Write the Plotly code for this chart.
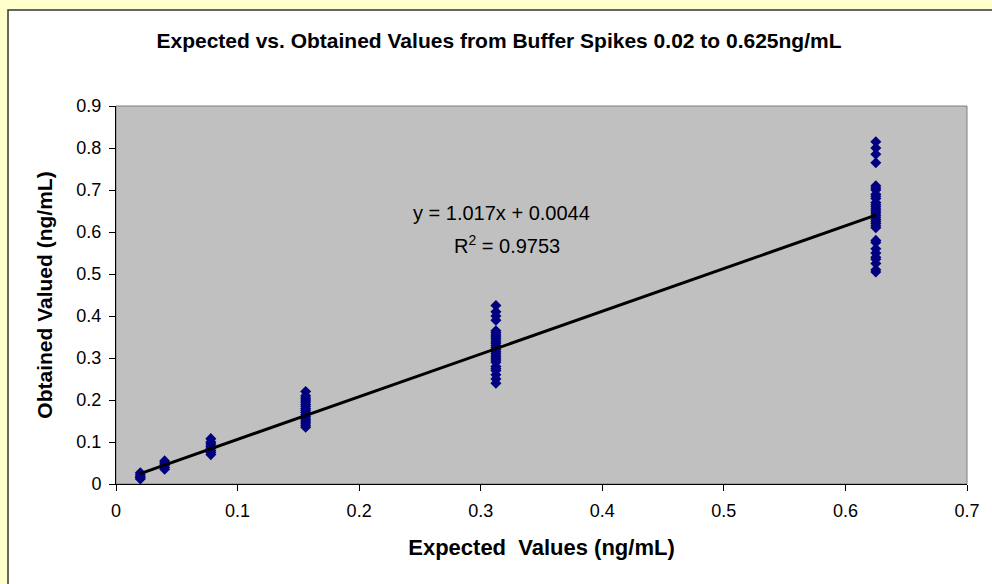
import plotly.graph_objects as go

# ---- data ----
expected_levels = [0.02, 0.04, 0.078, 0.156, 0.3125, 0.625]
obtained_002 = [0.027, 0.022, 0.018, 0.015, 0.012]
obtained_004 = [0.055, 0.05, 0.045, 0.04, 0.035]
obtained_0078 = [0.108, 0.10, 0.095, 0.09, 0.085, 0.08, 0.075, 0.07]
obtained_0156 = [0.22, 0.21, 0.205, 0.20, 0.195, 0.19, 0.185, 0.18, 0.175, 0.17,
                 0.165, 0.16, 0.155, 0.15, 0.145, 0.14, 0.135]
obtained_03125 = [0.425, 0.41, 0.40, 0.39, 0.365, 0.36, 0.355, 0.35, 0.345, 0.34,
                  0.335, 0.33, 0.325, 0.32, 0.315, 0.31, 0.305, 0.30, 0.295, 0.29,
                  0.28, 0.275, 0.27, 0.26, 0.25, 0.24]
obtained_0625 = [0.815, 0.80, 0.785, 0.765, 0.71, 0.705, 0.70, 0.69, 0.685, 0.68,
                 0.67, 0.665, 0.66, 0.655, 0.65, 0.645, 0.64, 0.635, 0.63, 0.625,
                 0.62, 0.615, 0.61, 0.58, 0.575, 0.56, 0.55, 0.54, 0.535, 0.525,
                 0.51, 0.505]
obtained_groups = [obtained_002, obtained_004, obtained_0078, obtained_0156,
                   obtained_03125, obtained_0625]

trend_slope = 1.017
trend_intercept = 0.0044
r_squared = 0.9753

x_ticks = [0, 0.1, 0.2, 0.3, 0.4, 0.5, 0.6, 0.7]
y_ticks = [0, 0.1, 0.2, 0.3, 0.4, 0.5, 0.6, 0.7, 0.8, 0.9]

# ---- build scatter arrays ----
xs, ys = [], []
for lvl, grp in zip(expected_levels, obtained_groups):
    xs.extend([lvl] * len(grp))
    ys.extend(grp)

trend_x = [min(expected_levels), max(expected_levels)]
trend_y = [trend_slope * v + trend_intercept for v in trend_x]

FONT = "Liberation Sans, Arial, sans-serif"
W, H = 992, 584
ML, MR, MT, MB = 116, 25, 106, 100
pw, ph = W - ML - MR, H - MT - MB


def px_x(p):
    return (p - ML) / pw


def px_y(p):
    return (H - MB - p) / ph


fig = go.Figure()
fig.add_trace(go.Scatter(
    x=xs, y=ys, mode="markers",
    marker=dict(symbol="diamond", size=8.5, color="#000080",
                line=dict(width=0)),
    showlegend=False, hoverinfo="x+y"))
fig.add_trace(go.Scatter(
    x=trend_x, y=trend_y, mode="lines",
    line=dict(color="black", width=3),
    showlegend=False, hoverinfo="skip"))

shapes = [
    # chart area (white with dark border)
    dict(type="rect", xref="paper", yref="paper",
         x0=px_x(8), x1=px_x(W + 20), y0=px_y(H + 20), y1=px_y(10),
         fillcolor="white", line=dict(color="#333333", width=1.5),
         layer="below"),
    # plot area (gray)
    dict(type="rect", xref="paper", yref="paper",
         x0=0, x1=1, y0=0, y1=1,
         fillcolor="#C0C0C0", line=dict(color="#808080", width=1),
         layer="below"),
]

fig.update_layout(
    width=W, height=H,
    margin=dict(l=ML, r=MR, t=MT, b=MB, pad=0),
    paper_bgcolor="#FFFFCC",
    plot_bgcolor="rgba(0,0,0,0)",
    shapes=shapes,
    title=dict(text="<b>Expected vs. Obtained Values from Buffer Spikes 0.02 to 0.625ng/mL</b>",
               x=499 / W, xref="container", xanchor="center",
               y=1 - 41 / H, yref="container", yanchor="middle",
               font=dict(family=FONT, size=21, color="black")),
    font=dict(family=FONT, color="black"),
    xaxis=dict(range=[0, 0.7], tickvals=x_ticks,
               ticktext=[f"{v:g}" for v in x_ticks],
               showgrid=False, zeroline=False,
               showline=True, linecolor="black", linewidth=1,
               ticks="outside", ticklen=6, tickcolor="black",
               ticklabelstandoff=4,
               tickfont=dict(family=FONT, size=18, color="black"),
               title=dict(text="<b>Expected  Values (ng/mL)</b>",
                          font=dict(family=FONT, size=22, color="black"),
                          standoff=20)),
    yaxis=dict(range=[0, 0.9], tickvals=y_ticks,
               ticktext=[f"{v:g}" for v in y_ticks],
               showgrid=False, zeroline=False,
               showline=True, linecolor="black", linewidth=1,
               ticks="outside", ticklen=6, tickcolor="black",
               ticklabelstandoff=4,
               tickfont=dict(family=FONT, size=18, color="black"),
               title=dict(text="<b>Obtained Valued (ng/mL)</b>",
                          font=dict(family=FONT, size=21, color="black"),
                          standoff=18)),
    annotations=[
        dict(text=f"y = {trend_slope}x + {trend_intercept}",
             xref="paper", yref="paper", x=px_x(501), y=px_y(213),
             xanchor="center", yanchor="middle", showarrow=False,
             font=dict(family=FONT, size=20, color="black")),
        dict(text=f"R<sup>2</sup> = {r_squared}",
             xref="paper", yref="paper", x=px_x(507), y=px_y(244),
             xanchor="center", yanchor="middle", showarrow=False,
             font=dict(family=FONT, size=20, color="black")),
    ],
)

fig.write_html(
    "out.html",
    config={"displayModeBar": False},
    post_script="document.body.style.margin='0';document.body.style.overflow='hidden';",
)
